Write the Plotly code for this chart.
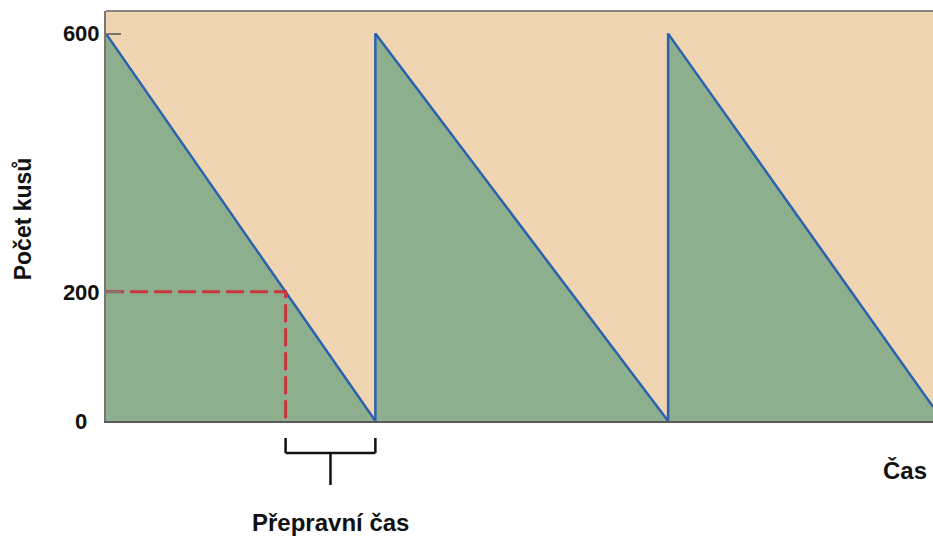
import plotly.graph_objects as go

# Data
time = [0, 3, 3, 6.26, 6.26, 9.21]
stock = [600, 0, 600, 0, 600, 22]
reorder_time = [0, 2, 2]
reorder_level = [200, 200, 0]
y_ticks = [0, 200, 600]
y_tick_labels = ["0\u2007", "200", "600"]

FONT = "Liberation Sans, Arial, sans-serif"
FS = 22
FS_LBL = 24

fig = go.Figure()
fig.add_trace(go.Scatter(
    x=time, y=stock, mode="lines",
    line=dict(color="#2b62ad", width=2.5),
    fill="tozeroy", fillcolor="#8daf8d",
    hoverinfo="skip", showlegend=False,
))
fig.add_trace(go.Scatter(
    x=reorder_time, y=reorder_level, mode="lines",
    line=dict(color="#c8363f", width=3, dash="18px,6px"),
    hoverinfo="skip", showlegend=False,
))

# top border
fig.add_shape(type="line", xref="paper", yref="paper", x0=0, x1=1, y0=1, y1=1,
              line=dict(color="#8a8580", width=2))

# bracket under transport time
def py(p):
    return (421 - p) / 410.0

bx0, bx1 = 2, 3
bm = (bx0 + bx1) / 2
ytop, ybot, ystem = py(438), py(453), py(485)
br = dict(color="#111111", width=2.5)
fig.add_shape(type="line", xref="x", yref="paper", x0=bx0, x1=bx0, y0=ytop, y1=ybot, line=br)
fig.add_shape(type="line", xref="x", yref="paper", x0=bx1, x1=bx1, y0=ytop, y1=ybot, line=br)
fig.add_shape(type="line", xref="x", yref="paper", x0=bx0, x1=bx1, y0=ybot, y1=ybot, line=br)
fig.add_shape(type="line", xref="x", yref="paper", x0=bm, x1=bm, y0=ybot, y1=ystem, line=br)

fig.add_annotation(x=bm, xref="x", y=py(522), yref="paper", text="<b>Přepravní čas</b>",
                   showarrow=False, font=dict(family=FONT, size=FS_LBL, color="#111"),
                   xanchor="center", yanchor="middle")
fig.add_annotation(x=1, xref="paper", y=py(470), yref="paper", text="<b>Čas</b>",
                   showarrow=False, font=dict(family=FONT, size=FS_LBL, color="#111"),
                   xanchor="right", yanchor="middle", xshift=-4)
fig.add_annotation(x=-0.1, xref="paper", y=py(219), yref="paper", text="<b>Počet kusů</b>",
                   showarrow=False, textangle=-90, font=dict(family=FONT, size=23, color="#111"),
                   xanchor="center", yanchor="middle")

fig.update_layout(
    width=933, height=536,
    margin=dict(l=106, r=0, t=11, b=115),
    paper_bgcolor="white", plot_bgcolor="#efd5b2",
    font=dict(family=FONT, size=FS, color="#111"),
    xaxis=dict(range=[0, 9.21], showgrid=False, zeroline=False, showticklabels=False,
               showline=True, linecolor="#5a5a5a", linewidth=2, ticks=""),
    yaxis=dict(range=[0, 635], showgrid=False, zeroline=False,
               tickvals=y_ticks, ticktext=y_tick_labels,
               tickfont=dict(family=FONT, size=FS, color="#111", weight="bold"),
               showline=True, linecolor="#7a7570", linewidth=2,
               ticks="inside", ticklen=15, tickcolor="#7a7570", tickwidth=2),
)

fig.write_html("out.html", config={"displayModeBar": False},
               post_script="document.body.style.margin='0';document.body.style.overflow='hidden';")
